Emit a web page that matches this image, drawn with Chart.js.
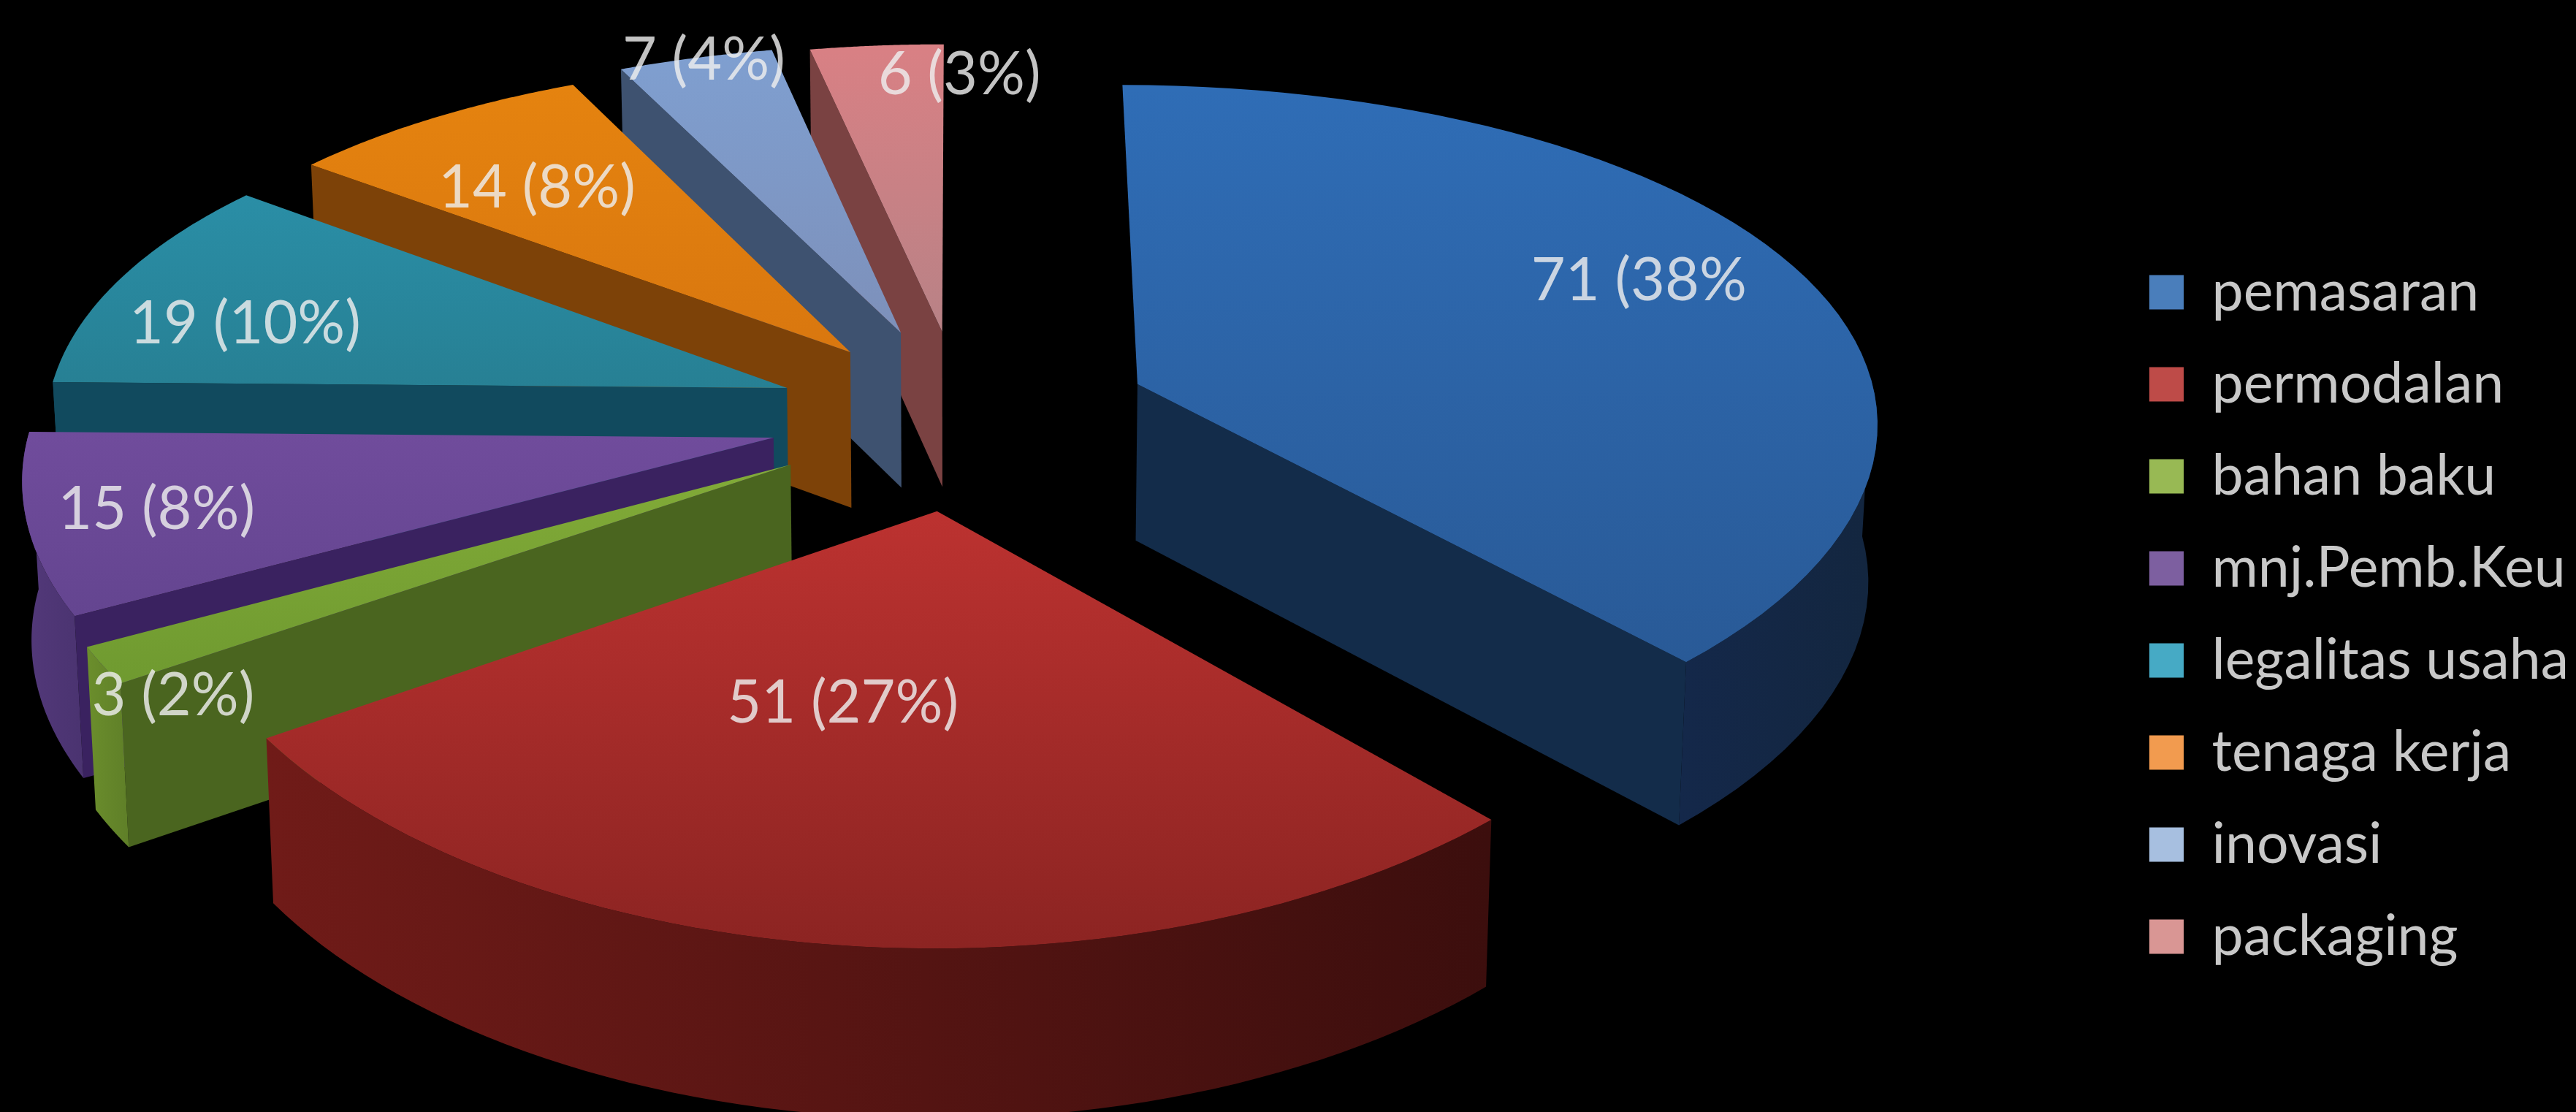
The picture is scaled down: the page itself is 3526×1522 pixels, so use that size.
<!DOCTYPE html>
<html>
<head>
<meta charset="utf-8">
<title>Pie</title>
<style>
  html, body { margin: 0; padding: 0; background: #000; }
  canvas { display: block; }
</style>
<script src="https://cdn.jsdelivr.net/npm/chart.js@4/dist/chart.umd.min.js"></script>
</head>
<body>
<canvas id="pie" width="3526" height="1522"></canvas>
<script>
const categories = ['pemasaran', 'permodalan', 'bahan baku', 'mnj.Pemb.Keu', 'legalitas usaha', 'tenaga kerja', 'inovasi', 'packaging'];
const counts = [71, 51, 3, 15, 19, 14, 7, 6];
const sliceLabels = ['71 (38%', '51 (27%)', '3 (2%)', '15 (8%)', '19 (10%)', '14 (8%)', '7 (4%)', '6 (3%)'];

// Slice styling
const topColors = [
  ['#2F6DB6', '#295A97'], ['#BC3230', '#8C2422'], ['#82AB38', '#6F9A30'], ['#704C9C', '#644590'],
  ['#2A8EA6', '#278094'], ['#E5830F', '#D9770F'], ['#7F9FD0', '#7D90BA'], ['#D98084', '#B88286']
];
const faceColors = ['#132C4A', '#5A1614', '#4A651F', '#3A2260', '#114A5E', '#7D4208', '#3E5270', '#7A4242'];
const wallColors = [
  ['#14284A', '#13263F'], ['#701B18', '#3C0E0D'], ['#6B8E2C', '#5F7F28'], ['#53397A', '#4A3370'],
  ['#114A5E', '#114A5E'], ['#7D4208', '#7D4208'], ['#3E5270', '#3E5270'], ['#7A4242', '#7A4242']
];
const legendColors = ['#4A7EBB', '#BE4B48', '#98B954', '#7D5FA0', '#46AAC5', '#F29B4F', '#A7BFE0', '#D99694'];
const explode = [262, 268, 268, 262, 254, 246, 266, 256];

// Label placement along each slice's middle radius, plus a small nudge
const labelRadius = [0.80, 0.475, 0.94, 0.83, 0.78, 0.68, 0.99, 0.83];
const labelNudgeX = [-37, -66, 37, 0, -24, -32, 9, 99];
const labelNudgeY = [-11, 4, 60, 2, 29, 0, 0, -20];

// Camera for the tilted pie: screen centre, tilt, perspective distance, thickness
const VIEW = { cx: 1315, cy: 570, tilt: 0.47, dist: 7400, depth: 215, taper: 0.01, widen: 0.7 };

function project(px, py, lowered) {
  const s = VIEW.dist / (VIEW.dist - py);
  const drop = lowered ? VIEW.depth * (0.6 + 0.4 * s) : 0;
  const narrow = lowered ? 1 - VIEW.taper : 1;
  return { x: VIEW.cx + px * Math.pow(s, VIEW.widen) * narrow, y: VIEW.cy + VIEW.tilt * py * s + drop };
}

function fillPath(ctx, pts, fill) {
  ctx.beginPath();
  pts.forEach((p, i) => (i ? ctx.lineTo(p.x, p.y) : ctx.moveTo(p.x, p.y)));
  ctx.closePath();
  ctx.fillStyle = fill;
  ctx.fill();
}

class Pie3DController extends Chart.PieController {
  static id = 'pie3d';
  static defaults = Chart.PieController.defaults;
  static overrides = Chart.PieController.overrides;

  sliceGeometry(arc, i) {
    const { startAngle, endAngle, outerRadius } = arc;
    const mid = (startAngle + endAngle) / 2;
    const off = arc.options.offset;
    const ox = Math.cos(mid) * off;
    const oy = Math.sin(mid) * off;
    const steps = 60;
    const rim = [];
    const frontRim = [];
    for (let k = 0; k <= steps; k++) {
      const a = startAngle + (endAngle - startAngle) * k / steps;
      const pt = [ox + Math.cos(a) * outerRadius, oy + Math.sin(a) * outerRadius];
      rim.push(pt);
      if (Math.sin(a) > -0.03) frontRim.push(pt);
    }
    return { i, mid, ox, oy, rim, frontRim, startAngle, endAngle, outerRadius };
  }

  drawSlice(ctx, g) {
    const top = p => project(p[0], p[1], false);
    const low = p => project(p[0], p[1], true);
    const apex = [g.ox, g.oy];
    const first = g.rim[0];
    const last = g.rim[g.rim.length - 1];

    // cut faces, only the ones turned towards the viewer
    if (Math.cos(g.startAngle) < -0.01) {
      fillPath(ctx, [top(apex), top(first), low(first), low(apex)], faceColors[g.i]);
    }
    if (Math.cos(g.endAngle) > 0.01) {
      fillPath(ctx, [top(apex), top(last), low(last), low(apex)], faceColors[g.i]);
    }

    // curved outer wall
    if (g.frontRim.length > 1) {
      const wall = g.frontRim.map(top).concat(g.frontRim.slice().reverse().map(low));
      const xs = wall.map(p => p.x);
      const wallFill = ctx.createLinearGradient(Math.min(...xs), 0, Math.max(...xs), 0);
      wallFill.addColorStop(0, wallColors[g.i][0]);
      wallFill.addColorStop(1, wallColors[g.i][1]);
      fillPath(ctx, wall, wallFill);
    }

    // top surface
    const face = [top(apex)].concat(g.rim.map(top));
    const ys = face.map(p => p.y);
    const topFill = ctx.createLinearGradient(0, Math.min(...ys), 0, Math.max(...ys));
    topFill.addColorStop(0, topColors[g.i][0]);
    topFill.addColorStop(1, topColors[g.i][1]);
    fillPath(ctx, face, topFill);
  }

  draw() {
    const ctx = this.chart.ctx;
    const slices = this.getMeta().data.map((arc, i) => this.sliceGeometry(arc, i));

    // far slices first so nearer ones paint over them
    slices.slice().sort((a, b) => a.oy - b.oy).forEach(g => this.drawSlice(ctx, g));

    ctx.save();
    ctx.font = '81px Lato';
    ctx.textAlign = 'center';
    ctx.textBaseline = 'middle';
    ctx.fillStyle = 'rgba(238, 238, 238, 0.82)';
    slices.forEach(g => {
      const r = g.outerRadius * labelRadius[g.i];
      const p = project(g.ox + Math.cos(g.mid) * r, g.oy + Math.sin(g.mid) * r, false);
      ctx.fillText(sliceLabels[g.i], p.x + labelNudgeX[g.i], p.y + labelNudgeY[g.i]);
    });
    ctx.restore();
  }
}

Chart.register(Pie3DController, Chart.ArcElement, Chart.Legend);

new Chart(document.getElementById('pie'), {
  type: 'pie3d',
  data: {
    labels: categories,
    datasets: [{
      data: counts,
      offset: explode,
      radius: 1015,
      borderWidth: 0,
      clip: false
    }]
  },
  options: {
    responsive: false,
    animation: false,
    layout: { padding: { top: 160, right: 0 } },
    plugins: {
      tooltip: { enabled: false },
      legend: {
        position: 'right',
        labels: {
          boxWidth: 47,
          boxHeight: 47,
          padding: 49,
          color: '#c8c8c8',
          font: { family: 'Lato', size: 77 },
          generateLabels: () => categories.map((text, i) => ({
            text,
            fillStyle: legendColors[i],
            strokeStyle: 'transparent',
            lineWidth: 0,
            fontColor: '#c8c8c8',
            hidden: false,
            index: i
          }))
        }
      }
    }
  }
});
</script>
</body>
</html>
